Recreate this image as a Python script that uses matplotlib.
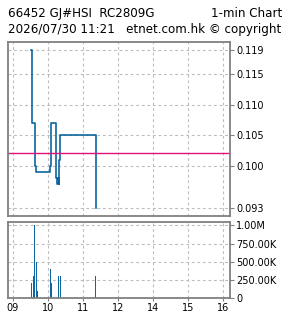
import matplotlib
matplotlib.use("Agg")
import matplotlib.pyplot as plt
from matplotlib.ticker import FixedLocator, FixedFormatter

# minutes since 09:00 (lunch break removed)
price_times = [31.8, 33.5, 38.0, 40.0, 63.3, 65.0, 74.6, 76.2, 77.5, 78.5, 79.7, 81.4, 141.9]
prices = [0.119, 0.107, 0.100, 0.099, 0.100, 0.107, 0.098, 0.097, 0.098, 0.097, 0.101, 0.105, 0.093]
prev_close = 0.102

vol_times = [31.8, 35.2, 36.9, 40.3, 42.0, 64.3, 66.0, 76.2, 77.9, 81.4, 141.9]
volumes = [200000, 300000, 1000000, 490000, 90000, 400000, 200000, 10000, 300000, 300000, 300000]

price_ticks = [0.093, 0.100, 0.105, 0.110, 0.115, 0.119]
price_tick_labels = ["0.093", "0.100", "0.105", "0.110", "0.115", "0.119"]
vol_ticks = [0, 250000, 500000, 750000, 1000000]
vol_tick_labels = ["0", "250.00K", "500.00K", "750.00K", "1.00M"]
time_ticks = [0, 60, 120, 180, 240, 300, 360]
time_tick_labels = ["09", "10", "11", "12", "14", "15", "16"]

LINE = "#0d66a0"
FRAME = "#808080"
GRID = "#bdbdbd"

fig = plt.figure(figsize=(2.85, 3.18), dpi=100)
W, H = 285, 318

def axes_px(l, t, r, b):
    return fig.add_axes([l / W, 1 - b / H, (r - l) / W, (b - t) / H])

ax = axes_px(8, 42, 230, 216)
axv = axes_px(8, 222, 230, 298)

xlim = (-8, 371.5)
for a in (ax, axv):
    a.set_xlim(*xlim)
    for s in a.spines.values():
        s.set_color(FRAME)
        s.set_linewidth(1.3)
    a.xaxis.set_major_locator(FixedLocator(time_ticks))
    a.grid(True, color=GRID, linestyle=(0, (2.5, 2.5)), linewidth=0.8)
    a.set_axisbelow(True)
    a.yaxis.tick_right()
    a.tick_params(axis="y", which="both", direction="out", length=3, width=0.8,
                  color=FRAME, labelsize=7, pad=1.5, left=False, right=True)

ax.step(price_times, prices, where="post", color=LINE, linewidth=1.2)
ax.axhline(prev_close, color="#e3117a", linewidth=1.0)
ax.set_ylim(0.09174, 0.1203)
ax.yaxis.set_major_locator(FixedLocator(price_ticks))
ax.yaxis.set_major_formatter(FixedFormatter(price_tick_labels))
ax.tick_params(axis="x", bottom=False, labelbottom=False)

axv.bar(vol_times, volumes, width=1.5, color=LINE, linewidth=0)
axv.set_ylim(0, 1046000)
axv.yaxis.set_major_locator(FixedLocator(vol_ticks))
axv.yaxis.set_major_formatter(FixedFormatter(vol_tick_labels))
axv.xaxis.set_major_formatter(FixedFormatter(time_tick_labels))
axv.tick_params(axis="x", direction="out", length=2, width=0.8, color=FRAME,
                labelsize=7, pad=1.5)

fs = 8.6
fig.text(8 / W, 1 - 13.5 / H, "66452 GJ#HSI  RC2809G", fontsize=fs, va="center", ha="left")
fig.text(282 / W, 1 - 13.5 / H, "1-min Chart", fontsize=fs, va="center", ha="right")
fig.text(8 / W, 1 - 29 / H, "2026/07/30 11:21   etnet.com.hk \u00a9 copyright", fontsize=fs,
         va="center", ha="left")

fig.savefig("out.png", dpi=100)
